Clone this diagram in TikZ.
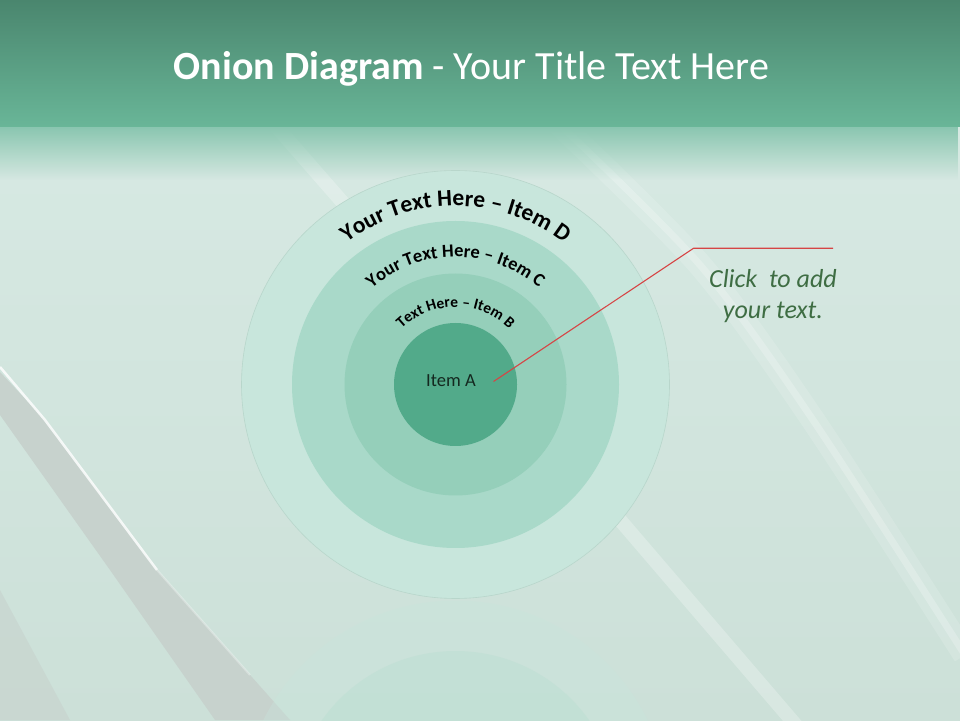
\documentclass[tikz,border=0pt]{standalone}
\usepackage{fontspec}
\setmainfont{Carlito}
\usetikzlibrary{decorations.text,fadings}
\definecolor{hdrTop}{HTML}{4A866E}
\definecolor{hdrBot}{HTML}{69B698}
\definecolor{fadeTop}{HTML}{8AC6B0}
\definecolor{bgTop}{HTML}{D9EBE5}
\definecolor{bgBot}{HTML}{CCE0D8}
\definecolor{ringD}{HTML}{C8E6DC}
\definecolor{ringC}{HTML}{A9D9C9}
\definecolor{ringB}{HTML}{95CFBA}
\definecolor{ringA}{HTML}{52AA8A}
\definecolor{ringEdge}{HTML}{B8D6CB}
\definecolor{callout}{HTML}{D64545}
\definecolor{clickGreen}{HTML}{3E6D43}
\definecolor{grayBand}{HTML}{C7D2CD}
\definecolor{itemText}{HTML}{14281F}
\newcommand{\fontD}{\fontsize{23.5}{23.5}\bfseries\selectfont}
\newcommand{\fontC}{\fontsize{18.5}{18.5}\bfseries\selectfont}
\newcommand{\fontB}{\fontsize{15.5}{15.5}\bfseries\selectfont}
\tikzset{
  ring/.style={circle, inner sep=0pt, minimum size=#1},
  arctext/.style={decorate, decoration={text along path, text align=center, text color=black, text={#1}}},
  streak/.style={white, line cap=butt, line join=round},
}
\begin{document}
\begin{tikzpicture}[x=1pt,y=1pt]
\useasboundingbox (0,0) rectangle (960,720);
% background
\shade[top color=bgTop, bottom color=bgBot] (0,0) rectangle (960,720);
% lower-left gray bands
\fill[grayBand] (0,348) -- (45,300) -- (157,150) -- (290,0) -- (215,0) -- (110,150) -- (0,305) -- cycle;
\fill[grayBand, opacity=.6] (0,130) -- (70,0) -- (0,0) -- cycle;
\draw[streak, line width=2.5, opacity=.8] (0,353) -- (45,300) -- (157,150);
\draw[streak, line width=2, opacity=.3] (157,150) -- (250,45);
% right streaks
\draw[streak, line width=24, opacity=.14] plot[smooth] coordinates {(555,600) (700,455) (813,300) (965,65)};
\draw[streak, line width=7, opacity=.22] plot[smooth] coordinates {(555,600) (700,455) (813,300) (965,65)};
\draw[streak, line width=14, opacity=.25] (275,595) -- (620,200) -- (800,-10);
% header
\shade[top color=hdrTop, bottom color=hdrBot] (0,593) rectangle (960,720);
\fill[fadeTop, path fading=south] (0,540) rectangle (960,593);
\node[anchor=base, text=white, font=\fontsize{40}{48}\selectfont] (title) at (471.5,640) {\textbf{Onion Diagram} - Your Title Text Here};
% reflection
\begin{scope}
\clip (0,0) rectangle (960,120);
\fill[ringD, opacity=.35] (455.5,-94.5) circle (214);
\fill[ringC, opacity=.22] (455.5,-94.5) circle (163.5);
\end{scope}
% onion rings
\coordinate (ctr) at (455.5,335.5);
\node[ring=428pt, fill=ringD, draw=ringEdge, line width=.6pt] (itemD) at (ctr) {};
\node[ring=327pt, fill=ringC] (itemC) at (ctr) {};
\node[ring=222pt, fill=ringB] (itemB) at (ctr) {};
\node[ring=123pt, fill=ringA] (itemAcircle) at (ctr) {};
% curved labels
\path[arctext={|\fontD|Your Text Here – Item D}] (ctr) ++(165:178.5) arc[start angle=165, end angle=15, radius=178.5];
\path[arctext={|\fontC|Your Text Here – Item C}] (ctr) ++(170:127.5) arc[start angle=170, end angle=10, radius=127.5];
\path[arctext={|\fontB|Text Here – Item B}] (ctr) ++(175:77.5) arc[start angle=175, end angle=5, radius=77.5];
\node[text=itemText, font=\fontsize{18.5}{20}\selectfont] (itemA) at (451,339.5) {Item A};
% callout
\coordinate (lineStart) at (493.5,338.5);
\coordinate (lineBend) at (693.5,471.7);
\coordinate (lineEnd) at (833,471.7);
\draw[callout, line width=1.1pt] (lineStart) -- (lineBend) -- (lineEnd);
\node[text=clickGreen, align=center, font=\fontsize{26}{31.5}\itshape\selectfont] (click) at (773,424) {Click\ \ to add\\your text.};
\end{tikzpicture}
\end{document}
